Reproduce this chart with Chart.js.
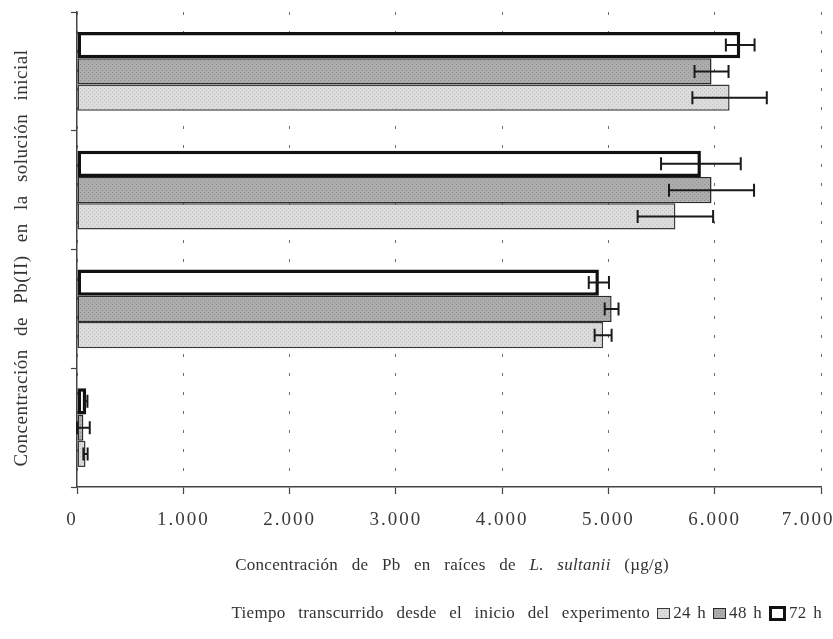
<!DOCTYPE html>
<html lang="es">
<head>
<meta charset="utf-8">
<title>Pb en raíces de L. sultanii</title>
<script src="https://cdn.jsdelivr.net/npm/chart.js@4.4.1/dist/chart.umd.min.js"></script>
<style>
    html, body { margin: 0; padding: 0; background: #fff; overflow: hidden; }
    #wrap { position: relative; width: 833px; height: 639px; font-family: "Liberation Serif", "Times New Roman", serif; color: #333; }
    #chartPb { position: absolute; left: 0; top: 0; }
    #tituloY {
        position: absolute; left: -209px; top: 246px; width: 460px; height: 24px; line-height: 24px;
        text-align: center; font-size: 19px; letter-spacing: 0.5px; word-spacing: 8px;
        transform: rotate(-90deg); transform-origin: 50% 50%; white-space: nowrap;
    }
    #tituloX {
        position: absolute; left: 77px; width: 750px; top: 555px; text-align: center;
        font-size: 17px; letter-spacing: 0.3px; word-spacing: 9px; white-space: nowrap;
    }
    #leyenda {
        position: absolute; right: 11px; top: 603px; font-size: 17px; letter-spacing: 0.3px;
        word-spacing: 8px; white-space: nowrap; display: flex; align-items: center;
    }
    #leyenda .item { display: inline-flex; align-items: center; margin-left: 7px; word-spacing: 2px; }
    #leyenda .caja { display: inline-block; width: 11px; height: 9px; margin-right: 3px; }
</style>
</head>
<body>
<div id="wrap">
    <canvas id="chartPb" width="833" height="639"></canvas>
    <div id="tituloY">Concentración de Pb(II) en la solución inicial</div>
    <div id="tituloX">Concentración de Pb en raíces de <i>L. sultanii</i> (µg/g)</div>
    <div id="leyenda">Tiempo transcurrido desde el inicio del experimento</div>
</div>

<script>
// ----------------------------------------
// Datos (µg/g)
// ----------------------------------------
// categorías de arriba hacia abajo (la figura no las rotula)
const categorias = ['Nivel 3', 'Nivel 2', 'Nivel 1', 'Control'];

const series = ['24 h', '48 h', '72 h'];

const valores24 = [6140, 5630, 4950, 80];
const errores24 = [350, 355, 80, 20];

const valores48 = [5970, 5970, 5030, 60];
const errores48 = [160, 400, 65, 60];

const valores72 = [6240, 5870, 4910, 86];
const errores72 = [135, 375, 95, 12];

const ticksX = [0, 1000, 2000, 3000, 4000, 5000, 6000, 7000];

// estilos de cada serie (relleno, punteado, borde, grosor)
const estilos = {
    '24 h': { fondo: '#dcdcdc', punto: '#c2c2c2', borde: '#3a3a3a', grosor: 1.5 },
    '48 h': { fondo: '#adadad', punto: '#8f8f8f', borde: '#2a2a2a', grosor: 1.5 },
    '72 h': { fondo: '#ffffff', punto: null, borde: '#111111', grosor: 3.5 }
};

let chartPbInstance = null;

/**
 * Trama punteada (como la del original impreso)
 */
function crearTrama(fondo, punto) {
    const c = document.createElement('canvas');
    c.width = 4;
    c.height = 4;
    const g = c.getContext('2d');
    g.fillStyle = fondo;
    g.fillRect(0, 0, 4, 4);
    if (punto) {
        g.fillStyle = punto;
        g.fillRect(0, 0, 1, 1);
        g.fillRect(2, 2, 1, 1);
    }
    return c;
}

/**
 * Barras de error horizontales, dibujadas con la escala x
 */
const barrasError = {
    id: 'barrasError',
    afterDatasetsDraw(chart) {
        const ctx = chart.ctx;
        const x = chart.scales.x;
        ctx.save();
        ctx.strokeStyle = '#1a1a1a';
        ctx.lineWidth = 2;
        chart.data.datasets.forEach((ds, i) => {
            const meta = chart.getDatasetMeta(i);
            meta.data.forEach((bar, j) => {
                const v = ds.data[j];
                const e = ds.errores[j];
                const x1 = x.getPixelForValue(v - e);
                const x2 = x.getPixelForValue(v + e);
                const y = bar.y;
                const cap = 6.5;
                ctx.beginPath();
                ctx.moveTo(x1, y); ctx.lineTo(x2, y);
                ctx.moveTo(x1, y - cap); ctx.lineTo(x1, y + cap);
                ctx.moveTo(x2, y - cap); ctx.lineTo(x2, y + cap);
                ctx.stroke();
            });
        });
        ctx.restore();
    }
};

/**
 * Espaciado de letras en el eje x y ajuste de la primera / última etiqueta
 * (en la figura el "7.000" se desplaza a la izquierda para caber)
 */
const etiquetasX = {
    id: 'etiquetasX',
    beforeDraw(chart) {
        const items = chart.scales.x.getLabelItems();
        if (items.length) {
            items[0].options.translation[0] -= 5;
            items[items.length - 1].options.translation[0] -= 13;
        }
        chart.ctx.letterSpacing = '2px';
    },
    beforeDatasetsDraw(chart) { chart.ctx.letterSpacing = '0px'; }
};

function crearDataset(ctx2d, nombre, valores, errores) {
    const st = estilos[nombre];
    const fondo = st.punto ? ctx2d.createPattern(crearTrama(st.fondo, st.punto), 'repeat') : st.fondo;
    return {
        label: nombre,
        data: valores,
        errores: errores,
        backgroundColor: fondo,
        borderColor: st.borde,
        borderWidth: st.grosor,
        borderSkipped: false,
        categoryPercentage: 0.665,
        barPercentage: 1.0
    };
}

function initChartPb() {
    const ctx = document.getElementById('chartPb');
    if (!ctx) return;

    if (chartPbInstance) {
        chartPbInstance.destroy();
        chartPbInstance = null;
    }

    const ctx2d = ctx.getContext('2d');

    chartPbInstance = new Chart(ctx, {
        type: 'bar',
        data: {
            labels: categorias,
            // 72 h arriba, 24 h abajo dentro de cada grupo
            datasets: [
                crearDataset(ctx2d, '72 h', valores72, errores72),
                crearDataset(ctx2d, '48 h', valores48, errores48),
                crearDataset(ctx2d, '24 h', valores24, errores24)
            ]
        },
        options: {
            indexAxis: 'y',
            responsive: false,
            animation: false,
            layout: { padding: { top: 12, right: 0, bottom: 0, left: 0 } },
            plugins: {
                legend: { display: false },
                tooltip: { enabled: false }
            },
            scales: {
                x: {
                    min: 0,
                    max: 7000,
                    afterBuildTicks: function (scale) {
                        scale.ticks = ticksX.map(v => ({ value: v }));
                    },
                    afterFit: function (scale) {
                        scale.height = 152;
                        scale.paddingLeft = 0;
                        scale.paddingRight = 12;
                    },
                    // border.dash en v4 marca el punteado de las líneas de la rejilla
                    border: { display: true, color: '#444', width: 1.5, dash: [3, 16] },
                    grid: {
                        color: '#6e6e6e',
                        lineWidth: 1,
                        tickLength: 7,
                        tickColor: '#444',
                        tickWidth: 1.2,
                        tickBorderDash: []
                    },
                    ticks: {
                        padding: 15,
                        color: '#3a3a3a',
                        font: { family: '"Liberation Serif", serif', size: 19 },
                        callback: function (value) {
                            return value === 0 ? '0' : value.toLocaleString('de-DE');
                        }
                    }
                },
                y: {
                    afterFit: function (scale) {
                        scale.width = 77;
                        scale.paddingTop = 0;
                        scale.paddingBottom = 0;
                    },
                    border: { display: true, color: '#444', width: 1.5 },
                    grid: {
                        drawOnChartArea: false,
                        drawTicks: true,
                        tickLength: 6,
                        tickColor: '#444',
                        tickWidth: 1.2
                    },
                    ticks: {
                        callback: function () { return ''; }
                    }
                }
            }
        },
        plugins: [barrasError, etiquetasX]
    });
}

/**
 * Leyenda en HTML: 24 h, 48 h, 72 h
 */
function initLeyenda() {
    const cont = document.getElementById('leyenda');
    series.forEach(nombre => {
        const st = estilos[nombre];
        const item = document.createElement('span');
        item.className = 'item';
        const caja = document.createElement('span');
        caja.className = 'caja';
        caja.style.background = st.punto
            ? 'url(' + crearTrama(st.fondo, st.punto).toDataURL() + ')'
            : st.fondo;
        caja.style.border = (st.grosor > 2 ? 3 : 1.5) + 'px solid ' + st.borde;
        item.appendChild(caja);
        item.appendChild(document.createTextNode(nombre));
        cont.appendChild(item);
    });
}

document.addEventListener('DOMContentLoaded', function () {
    try {
        initLeyenda();
        initChartPb();
    } catch (error) {
        console.error('Error al dibujar el gráfico:', error);
    }
});
</script>
</body>
</html>
